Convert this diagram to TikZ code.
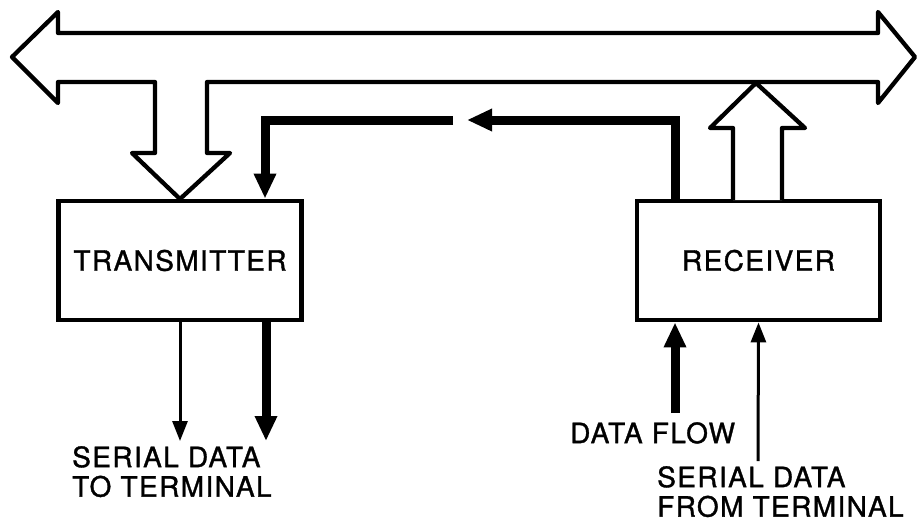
\documentclass[tikz,border=0pt]{standalone}
\usepackage{fontspec}
\setmainfont{TeX Gyre Heros}
\newfontfamily\lblfont{TeX Gyre Heros}[FakeBold=1.2, LetterSpace=5]
\usetikzlibrary{arrows.meta}
\begin{document}
\begin{tikzpicture}[x=1pt,y=-1pt,
  lbl/.style={font=\lblfont\fontsize{28}{29.5}\selectfont, inner sep=0pt},
  box/.style={draw, line width=4.8pt, minimum width=243pt, minimum height=119pt, font=\lblfont\fontsize{28}{29.5}\selectfont},
  outline/.style={draw, line width=4.3pt, line join=round, fill=white},
  thin/.style={line width=3pt, -{Triangle[length=20pt,width=15pt]}},
  thick/.style={line width=9pt, -{Triangle[length=25pt,width=21pt]}}]
\useasboundingbox (0,0) rectangle (920,523);
% bus
\path[outline] (12,57) -- (58,12) -- (58,33) -- (878,33) -- (878,12) -- (915,57) -- (878,103) -- (878,82)
  -- (207,82) -- (207,153) -- (230,153) -- (180,199) -- (132,153) -- (155,153) -- (155,82)
  -- (58,82) -- (58,103) -- cycle;
% boxes
\node[box] (tx) at (180,260.5) {TRANSMITTER};
\node[box] (rx) at (758.5,260.5) {RECEIVER};
% receiver up arrow
\path[outline] (733,200) -- (733,128) -- (710,128) -- (756,83) -- (805,128) -- (782,128) -- (782,200);
% thick data flow path
\coordinate (gapR) at (467,120);
\coordinate (gapL) at (453,120);
\draw[thick, line join=miter] ([xshift=-83.5pt]rx.north) |- (gapR);
\draw[thick, line join=miter] (gapL) -| ([xshift=85pt]tx.north);
% transmitter outputs
\coordinate (txo1) at (180,441);
\coordinate (txo2) at (266,441);
\draw[thin] (tx.south) -- (txo1);
\draw[thick] ([xshift=86pt]tx.south) -- (txo2);
% receiver inputs
\coordinate (rxi1) at (675,413);
\coordinate (rxi2) at (758,461);
\draw[thick] (rxi1) -- ([xshift=-83.5pt]rx.south);
\draw[thin] (rxi2) -- (rx.south);
% labels
\node[lbl, anchor=north west, align=left] (l1) at (72,446) {SERIAL DATA\\TO TERMINAL};
\node[lbl, anchor=north west] (l2) at (570,422) {DATA FLOW};
\node[lbl, anchor=north west, align=left] (l3) at (657,466) {SERIAL DATA\\FROM TERMINAL};
\end{tikzpicture}
\end{document}
